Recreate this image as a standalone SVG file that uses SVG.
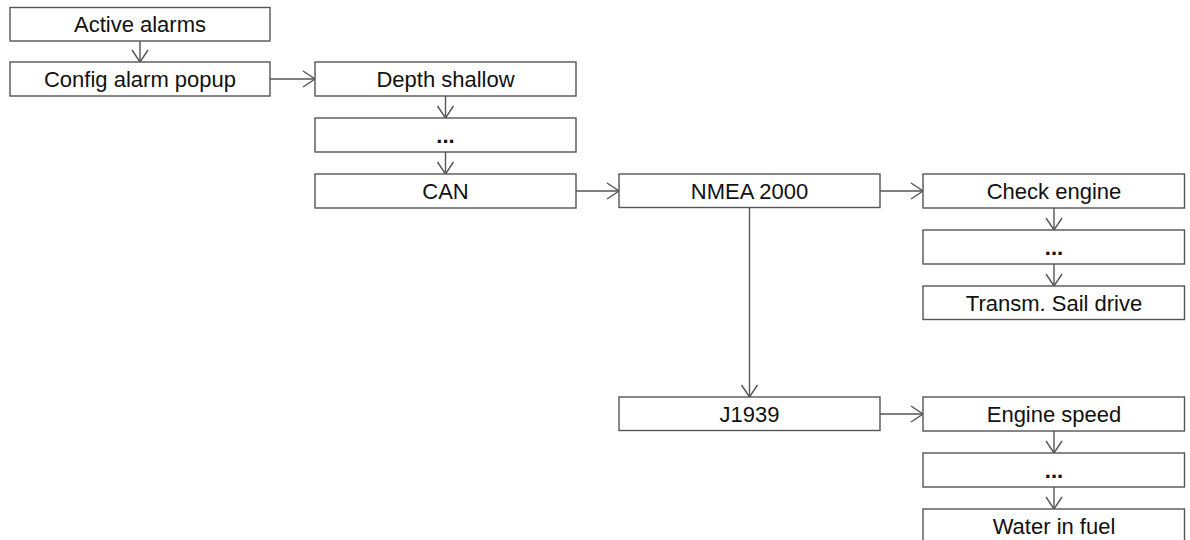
<svg xmlns="http://www.w3.org/2000/svg" width="1190" height="540" viewBox="0 0 1190 540">
<style>
.box{fill:#fff;stroke:#555;stroke-width:1.4}
.t{font-family:"Liberation Sans",Arial,sans-serif;font-size:22px;fill:#111;text-anchor:middle;dominant-baseline:central}
.d{font-weight:bold}
.c{fill:none;stroke:#555;stroke-width:1.4;marker-end:url(#ah)}
</style>
<defs>
<marker id="ah" markerWidth="16" markerHeight="20" refX="13" refY="10" orient="auto" markerUnits="userSpaceOnUse">
<path d="M1,2 L13,10 L1,18" fill="none" stroke="#555" stroke-width="1.4"/>
</marker>
</defs>
<rect width="1190" height="540" fill="#fff"/>
<g id="connectors">
<line class="c" x1="140" y1="41" x2="140" y2="62"/>
<line class="c" x1="270" y1="79" x2="315" y2="79"/>
<line class="c" x1="445.5" y1="96" x2="445.5" y2="118"/>
<line class="c" x1="445.5" y1="152" x2="445.5" y2="174"/>
<line class="c" x1="576" y1="191" x2="619" y2="191"/>
<line class="c" x1="880" y1="191" x2="923" y2="191"/>
<line class="c" x1="749.5" y1="207.5" x2="749.5" y2="397"/>
<line class="c" x1="1054" y1="208" x2="1054" y2="230"/>
<line class="c" x1="1054" y1="264" x2="1054" y2="286"/>
<line class="c" x1="880" y1="414" x2="923" y2="414"/>
<line class="c" x1="1054" y1="431" x2="1054" y2="453"/>
<line class="c" x1="1054" y1="487" x2="1054" y2="509"/>
</g>
<g id="n-active"><rect class="box" x="10" y="7.5" width="260" height="33.5"/><text class="t" x="140" y="24.5">Active alarms</text></g>
<g id="n-config"><rect class="box" x="10" y="62" width="260" height="34"/><text class="t" x="140" y="79">Config alarm popup</text></g>
<g id="n-depth"><rect class="box" x="315" y="62" width="261" height="34"/><text class="t" x="445.5" y="79">Depth shallow</text></g>
<g id="n-dots1"><rect class="box" x="315" y="118" width="261" height="34"/><text class="t d" x="445.5" y="135">...</text></g>
<g id="n-can"><rect class="box" x="315" y="174" width="261" height="34"/><text class="t" x="445.5" y="191">CAN</text></g>
<g id="n-nmea"><rect class="box" x="619" y="174" width="261" height="33.5"/><text class="t" x="749.5" y="191">NMEA 2000</text></g>
<g id="n-check"><rect class="box" x="923" y="174" width="261.5" height="34"/><text class="t" x="1054" y="191">Check engine</text></g>
<g id="n-dots2"><rect class="box" x="923" y="230" width="261.5" height="34"/><text class="t d" x="1054" y="247">...</text></g>
<g id="n-transm"><rect class="box" x="923" y="286" width="261.5" height="33.5"/><text class="t" x="1054" y="303">Transm. Sail drive</text></g>
<g id="n-j1939"><rect class="box" x="619" y="397" width="261" height="33.5"/><text class="t" x="749.5" y="414">J1939</text></g>
<g id="n-engine"><rect class="box" x="923" y="397" width="261.5" height="34"/><text class="t" x="1054" y="414">Engine speed</text></g>
<g id="n-dots3"><rect class="box" x="923" y="453" width="261.5" height="34"/><text class="t d" x="1054" y="470">...</text></g>
<g id="n-water"><rect class="box" x="923" y="509" width="261.5" height="34"/><text class="t" x="1054" y="526">Water in fuel</text></g>
</svg>
